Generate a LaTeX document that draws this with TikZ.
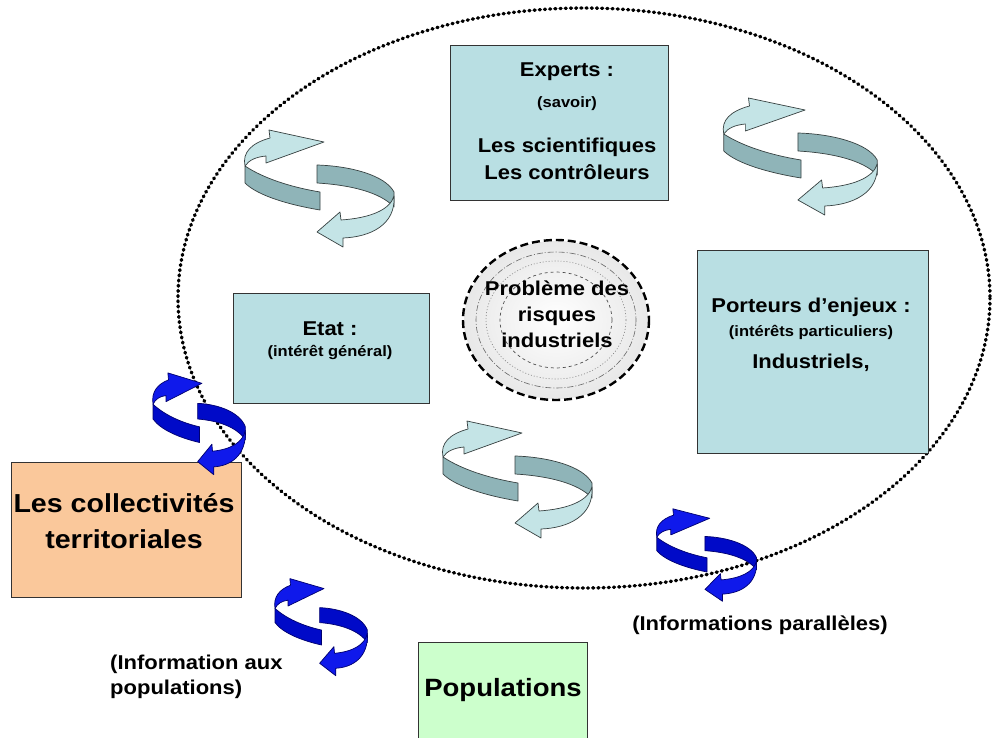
\documentclass[tikz,border=0pt]{standalone}
\usepackage{fontspec}
\setmainfont{Liberation Sans}[FakeStretch=1.1]
\definecolor{boxblue}{RGB}{185,223,227}
\definecolor{boxorange}{RGB}{250,200,155}
\definecolor{boxgreen}{RGB}{204,255,204}
\definecolor{swlight}{RGB}{196,228,230}
\definecolor{swdark}{RGB}{143,180,184}
\definecolor{swline}{RGB}{55,65,65}
\definecolor{bllight}{RGB}{15,25,235}
\definecolor{bldark}{RGB}{0,10,200}
\definecolor{blline}{RGB}{0,0,110}
\newcommand\swirlshape[3]{%
  \filldraw[fill=#2,draw=#3,line width=0.7pt,line join=round]
    (25,56) .. controls (43,68) and (70,77) .. (100,82) -- (100,100)
    .. controls (70,95) and (38,86) .. (25,73) -- cycle;
  \filldraw[fill=#1,draw=#3,line width=0.7pt,line join=round]
    (25,56) .. controls (22,42) and (32,33) .. (50,28) -- (49,20) -- (104,32)
    -- (46,53) -- (46,46) .. controls (36,47) and (29,50) .. (25,56) -- cycle;
  \filldraw[fill=#2,draw=#3,line width=0.7pt,line join=round]
    (97,55) .. controls (130,56) and (165,65) .. (174,82) -- (174,97)
    .. controls (160,82) and (130,75) .. (97,73) -- cycle;
  \filldraw[fill=#1,draw=#3,line width=0.7pt,line join=round]
    (174,86) .. controls (170,100) and (150,108) .. (121,110) -- (120,102)
    -- (97,122) -- (123,137) -- (123,128) .. controls (150,127) and (176,115) .. (174,86) -- cycle;
}
\tikzset{
  pics/grayswirl/.style={code={\swirlshape{swlight}{swdark}{swline}}},
  pics/blueswirl/.style={code={\swirlshape{bllight}{bldark}{blline}}},
  box/.style={draw=black!80, line width=0.9pt, inner sep=0pt, anchor=north west},
  big/.style={font=\fontsize{20}{23}\selectfont\bfseries, inner sep=0pt},
  small/.style={font=\fontsize{15}{17}\selectfont\bfseries, inner sep=0pt},
  huge/.style={font=\fontsize{26}{36}\selectfont\bfseries, inner sep=0pt, align=center},
}
\begin{document}
\begin{tikzpicture}[x=1pt,y=-1pt]
\useasboundingbox (0,0) rectangle (993,738);
\clip (0,0) rectangle (993,738);
\fill[white] (0,0) rectangle (993,738);

% big dotted ellipse
\draw[line width=3.4pt, line cap=round, dash pattern=on 1pt off 4.2pt]
  (584,298) ellipse [x radius=406, y radius=290];

% boxes
\node[box, fill=boxblue, minimum width=218, minimum height=155] (experts) at (450,45) {};
\node[box, fill=boxblue, minimum width=196, minimum height=110] (etat) at (233,293) {};
\node[box, fill=boxblue, minimum width=231, minimum height=203] (porteurs) at (697,250) {};
\node[box, fill=boxorange, minimum width=230, minimum height=135] (coll) at (11,462) {};
\node[box, fill=boxgreen, minimum width=169, minimum height=110] (pop) at (418,642) {};

% centre circle
\shade[inner color=white, outer color=black!9] (556,320) ellipse [x radius=92, y radius=79];
\draw[line width=0.6pt, black!60, dash pattern=on 6pt off 2pt on 1pt off 2pt]
  (556,320) ellipse [x radius=80, y radius=68];
\draw[line width=0.6pt, black!50, dash pattern=on 1pt off 2pt]
  (556,320) ellipse [x radius=70, y radius=59];
\draw[line width=0.7pt, black!70, dashed]
  (556,320) ellipse [x radius=56, y radius=48];
\draw[line width=2.4pt, dash pattern=on 8pt off 4pt]
  (556,320) ellipse [x radius=93, y radius=80];
\coordinate (centre) at (556,320);

% texts
\node[big] (t1) at (567,72) {Experts :};
\node[small] (t2) at (567,104) {(savoir)};
\node[big] (t3) at (567,147) {Les scientifiques};
\node[big] (t4) at (567,172) {Les contrôleurs};

\node[big] (t5) at (330,329) {Etat :};
\node[small] (t6) at (330,352) {(intérêt général)};

\node[big] (t7) at (811,307) {Porteurs d’enjeux :};
\node[small] (t8) at (811,332) {(intérêts particuliers)};
\node[big] (t9) at (811,363) {Industriels,};

\node[big, align=center] (t10) at (557,314) {Problème des\\[3pt]risques\\[3pt]industriels};

\node[huge] (t11) at (124,521) {Les collectivités\\territoriales};
\node[huge, font=\fontsize{25}{30}\selectfont\bfseries] (t12) at (503,690) {Populations};

\node[big, align=left, anchor=west] (t13) at (110,677) {(Information aux\\[2pt]populations)};
\node[big] (t14) at (760,625) {(Informations parallèles)};

% swirl arrows
\pic at (220,110) {grayswirl};
\pic[xscale=1.03] at (698,78) {grayswirl};
\pic at (418,401) {grayswirl};
\pic[xscale=0.62, yscale=0.87] at (137.5,355.5) {blueswirl};
\pic[xscale=0.62, yscale=0.83] at (259.5,562) {blueswirl};
\pic[xscale=0.67, yscale=0.79] at (640,493) {blueswirl};
\end{tikzpicture}
\end{document}
